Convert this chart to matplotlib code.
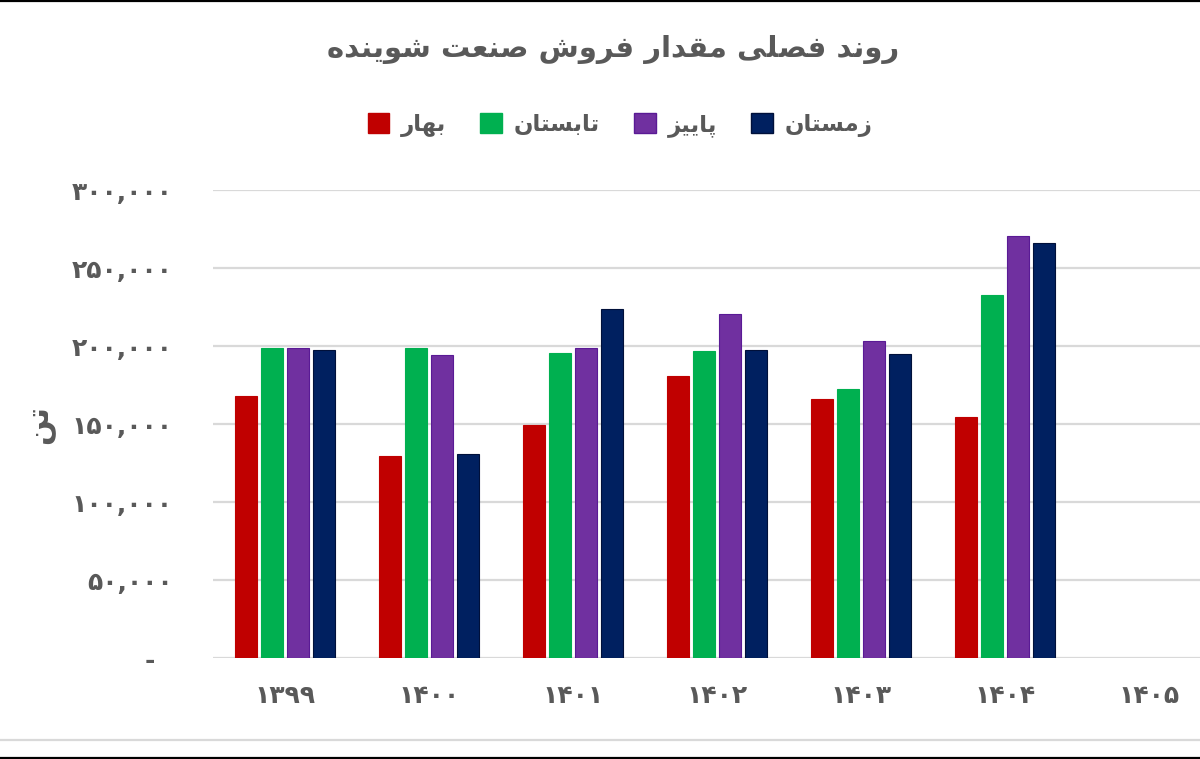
import numpy as np
import matplotlib
matplotlib.use("Agg")
import matplotlib.pyplot as plt
from matplotlib.patches import Patch
from matplotlib.lines import Line2D

plt.rcParams['font.family'] = ['DejaVu Sans']

# data (tonnes)
years = ['1399', '1400', '1401', '1402', '1403', '1404', '1405']
spring = [168000, 129500, 149500, 181000, 166000, 154500, np.nan]
summer = [199000, 199000, 195500, 197000, 172500, 233000, np.nan]
autumn = [199000, 194000, 199000, 220500, 203000, 270500, np.nan]
winter = [197500, 131000, 223500, 197500, 195000, 266000, np.nan]
season_names = ['بهار', 'تابستان', 'پاییز', 'زمستان']
title = 'روند فصلی مقدار فروش صنعت شوینده'
unit = 'تن'

colors = ['#c00000', '#00b050', '#7030a0', '#002060']
edges = ['#c00000', '#00b050', '#5a1a95', '#00103a']
grey = '#595959'

# matplotlib has no arabic shaping, so pick presentation forms by hand
# (isolated, final, initial, medial)
FORMS = {
    'ا': ('\uFE8D', '\uFE8E', None, None),
    'ب': ('\uFE8F', '\uFE90', '\uFE91', '\uFE92'),
    'پ': ('\uFB56', '\uFB57', '\uFB58', '\uFB59'),
    'ت': ('\uFE95', '\uFE96', '\uFE97', '\uFE98'),
    'د': ('\uFEA9', '\uFEAA', None, None),
    'ر': ('\uFEAD', '\uFEAE', None, None),
    'ز': ('\uFEAF', '\uFEB0', None, None),
    'س': ('\uFEB1', '\uFEB2', '\uFEB3', '\uFEB4'),
    'ش': ('\uFEB5', '\uFEB6', '\uFEB7', '\uFEB8'),
    'ص': ('\uFEB9', '\uFEBA', '\uFEBB', '\uFEBC'),
    'ع': ('\uFEC9', '\uFECA', '\uFECB', '\uFECC'),
    'ف': ('\uFED1', '\uFED2', '\uFED3', '\uFED4'),
    'ق': ('\uFED5', '\uFED6', '\uFED7', '\uFED8'),
    'ل': ('\uFEDD', '\uFEDE', '\uFEDF', '\uFEE0'),
    'م': ('\uFEE1', '\uFEE2', '\uFEE3', '\uFEE4'),
    'ن': ('\uFEE5', '\uFEE6', '\uFEE7', '\uFEE8'),
    'ه': ('\uFEE9', '\uFEEA', '\uFEEB', '\uFEEC'),
    'و': ('\uFEED', '\uFEEE', None, None),
    'ی': ('\uFEEF', '\uFEF0', '\uFEF3', '\uFEF4'),
}


def fa(text):
    words = []
    for word in text.split(' '):
        out = []
        for i, c in enumerate(word):
            if c not in FORMS:
                out.append(c)
                continue
            prev_j = i > 0 and word[i - 1] in FORMS and FORMS[word[i - 1]][2] is not None
            next_j = i < len(word) - 1 and word[i + 1] in FORMS and FORMS[c][2] is not None
            if prev_j and next_j:
                out.append(FORMS[c][3])
            elif prev_j:
                out.append(FORMS[c][1])
            elif next_j:
                out.append(FORMS[c][2])
            else:
                out.append(FORMS[c][0])
        words.append(''.join(out)[::-1])
    return ' '.join(words[::-1])


digits = str.maketrans('0123456789', '۰۱۲۳۴۵۶۷۸۹')

fig = plt.figure(figsize=(12, 7.59), dpi=100)
ax = fig.add_axes([213 / 1200, 1 - 658 / 759, 987 / 1200, 468 / 759])

x = np.arange(len(years))
width = 22 / 144
step = 26 / 144
for i, vals in enumerate([spring, summer, autumn, winter]):
    ax.bar(x + (i - 1.5) * step, vals, width=width, color=colors[i],
           edgecolor=edges[i], linewidth=0.8, zorder=3)

ax.set_xlim(-0.5, (1200 - 285) / 144)
ax.set_ylim(0, 300000)
yt = list(range(0, 300001, 50000))
ax.set_yticks(yt)
ax.set_yticklabels(['-  ' if v == 0 else f'{v:,}'.translate(digits) for v in yt],
                   fontsize=18, color=grey, fontweight='bold')
ax.set_xticks(x)
ax.set_xticklabels([y.translate(digits) for y in years], fontsize=18, color=grey,
                   fontweight='bold')
ax.tick_params(axis='y', length=0, pad=29)
ax.tick_params(axis='x', length=0, pad=19)
ax.grid(axis='y', color='#d9d9d9', linewidth=1.6, zorder=0)
for s in ax.spines.values():
    s.set_visible(False)

fig.text(613 / 1200, 1 - 49 / 759, fa(title), ha='center', va='center',
         fontsize=21, color=grey, fontweight='bold')
fig.text(40 / 1200, 1 - 425 / 759, fa(unit), ha='center', va='center',
         fontsize=22, color=grey, rotation=90, fontweight='bold')

handles = [Patch(facecolor=colors[i], edgecolor=edges[i]) for i in range(4)]
fig.legend(handles, [fa(s) for s in season_names], loc='center',
           bbox_to_anchor=(620 / 1200, 1 - 125 / 759), ncol=4, frameon=False,
           prop={'size': 16.5, 'weight': 'bold'}, labelcolor=grey,
           handlelength=0.95, handleheight=0.95,
           handletextpad=0.5, columnspacing=1.5)

# frame lines of the picture
fig.add_artist(Line2D([0, 1], [1 - 740 / 759] * 2, color='#d9d9d9', lw=1.6))
fig.add_artist(Line2D([0, 1], [1 - 0.8 / 759] * 2, color='black', lw=1.6))
fig.add_artist(Line2D([0, 1], [1 - 757.5 / 759] * 2, color='black', lw=1.6))

fig.savefig('out.png', dpi=100)
